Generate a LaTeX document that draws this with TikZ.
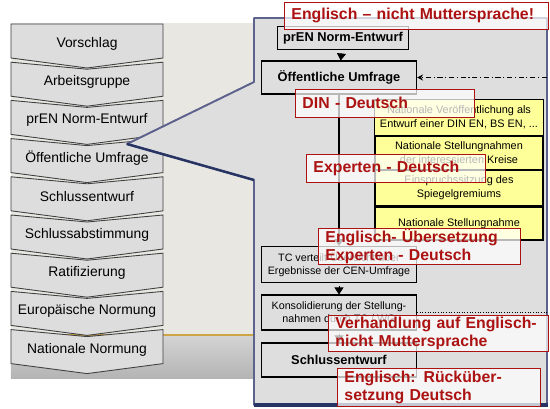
\documentclass[tikz,border=0pt]{standalone}
\usepackage{fontspec}
\setmainfont{Liberation Sans}
\usetikzlibrary{arrows.meta}

\definecolor{slidebg}{RGB}{232,231,226}
\definecolor{slidegray}{RGB}{212,212,212}
\definecolor{goldline}{RGB}{205,165,70}
\definecolor{chevfill}{RGB}{221,221,221}
\definecolor{panelfill}{RGB}{222,222,222}
\definecolor{panelline}{RGB}{92,98,140}
\definecolor{panelshadow}{RGB}{40,52,100}
\definecolor{notefill}{RGB}{255,255,153}
\definecolor{tagred}{RGB}{172,18,18}

\tikzset{
  chevron/.style={draw=black!75,fill=chevfill,line width=0.5pt},
  chevtext/.style={font=\fontsize{7.9}{9}\selectfont},
  stepbox/.style={draw=black,line width=0.6pt,minimum width=31mm,minimum height=7mm,
    align=center,font=\fontsize{6.1}{7.4}\selectfont},
  keybox/.style={stepbox,font=\bfseries\fontsize{7.3}{9}\selectfont},
  note/.style={draw=black,fill=notefill,line width=0.6pt,minimum width=33.6mm,
    align=center,font=\fontsize{6.2}{8}\selectfont},
  tag/.style={draw=tagred,fill=white,fill opacity=0.72,text opacity=1,text=tagred,
    line width=0.5pt,align=left,inner xsep=1.5mm,inner ysep=0pt,
    font=\bfseries\fontsize{9}{10.2}\selectfont},
  flowtip/.style={-{Triangle[length=1.4mm,width=1.8mm]},line width=0.4pt},
}

\begin{document}
\begin{tikzpicture}[x=0.2mm,y=-0.2mm]
  % bounding box
  \useasboundingbox (0,0) rectangle (550,409);
  % slide background
  \fill[slidebg] (11,23) rectangle (255,335);
  \shade[top color=slidegray,bottom color=slidegray!85!black] (11,335) rectangle (255,378);
  \draw[goldline,line width=1.2pt] (11,335) -- (255,335);
  % chevron list
  \foreach \lbl [count=\i from 0] in {Vorschlag,Arbeitsgruppe,prEN Norm-Entwurf,%
      Öffentliche Umfrage,Schlussentwurf,Schlussabstimmung,Ratifizierung,%
      Europäische Normung,Nationale Normung}{
    \pgfmathsetmacro{\yt}{24+38.2*\i}
    \pgfmathsetmacro{\yn}{\i==0 ? 24 : \yt+7}
    \draw[chevron] (11,\yt) -- (87,\yn) -- (163,\yt) -- (163,\yt+34)
      -- (87,\yt+44) -- (11,\yt+34) -- cycle;
    \node[chevtext] (chev\i) at (87,\yt+20) {\lbl};
  }
  % callout panel
  \draw[panelline,fill=panelfill,line width=1.1pt,line join=round]
    (254,18) -- (547,18) -- (547,405) -- (254,405) -- (254,180)
    -- (127,144) -- (254,82) -- cycle;
  \draw[panelshadow,line width=1.4pt] (127,144) -- (254,180);
  \draw[panelshadow,line width=1.8pt] (254,405) -- (548,405);
  % process steps
  \node[keybox,minimum width=26mm,minimum height=4mm] (prEN) at (343,38) {prEN Norm-Entwurf};
  \node[keybox,minimum height=6.6mm] (oeff) at (339,77.5) {Öffentliche Umfrage};
  \node[stepbox] (tc) at (339,264.5) {TC verteilt Übersicht über\\Ergebnisse der CEN-Umfrage};
  \node[stepbox] (kons) at (339,312.5) {Konsolidierung der Stellung-\\nahmen durch TC / WG};
  \node[keybox,minimum height=6.8mm] (schluss) at (339,360) {Schlussentwurf};
  % national steps
  \node[note,minimum height=7mm] (nat1) at (459,117.5) {Nationale Veröffentlichung als\\Entwurf einer DIN EN, BS EN, ...};
  \node[note,minimum height=6.8mm] (nat2) at (459,153) {Nationale Stellungnahmen\\der interessierten Kreise};
  \node[note,minimum height=6.8mm] (nat3) at (459,188) {Einspruchssitzung des\\Spiegelgremiums};
  \node[note,minimum height=6.6mm] (nat4) at (459,223.5) {Nationale Stellungnahme};
  % connectors
  \coordinate (rim1) at (547,77.5);
  \coordinate (rim2) at (547,312.5);
  \draw[flowtip,shorten <=1mm] (prEN) -- (oeff);
  \draw[line width=1.5pt,-{Triangle[length=1.4mm,width=1.8mm]}] (oeff) -- (tc);
  \draw[flowtip,shorten <=0.6mm] (tc) -- (kons);
  \draw[flowtip,shorten <=0.6mm] (kons) -- (schluss);
  \draw[line width=0.5pt,dash pattern=on 3pt off 1.5pt on 0.6pt off 1.5pt,
    -{Stealth[length=1.2mm,width=1.2mm]}] (rim1) -- (oeff);
  \draw[line width=0.5pt,densely dotted] (kons) -- (rim2);
  % language notes
  \node[tag,text width=49.8mm,minimum height=5.4mm] (lang1) at (416,15.5) {Englisch – nicht Muttersprache!};
  \node[tag,text width=32.8mm,minimum height=5.6mm] (lang2) at (384.5,103) {DIN - Deutsch};
  \node[tag,text width=32.8mm,minimum height=5.6mm] (lang3) at (395.5,168) {Experten - Deutsch};
  \node[tag,text width=37.4mm,minimum height=7.2mm] (lang4) at (419,246) {Englisch- Übersetzung\\Experten - Deutsch};
  \node[tag,text width=41mm,minimum height=7.2mm] (lang5) at (438,333) {Verhandlung auf Englisch-\\nicht Muttersprache};
  \node[tag,text width=37.6mm,minimum height=7.6mm] (lang6) at (438.5,387) {Englisch: Rücküber-\\setzung Deutsch};
\end{tikzpicture}
\end{document}
